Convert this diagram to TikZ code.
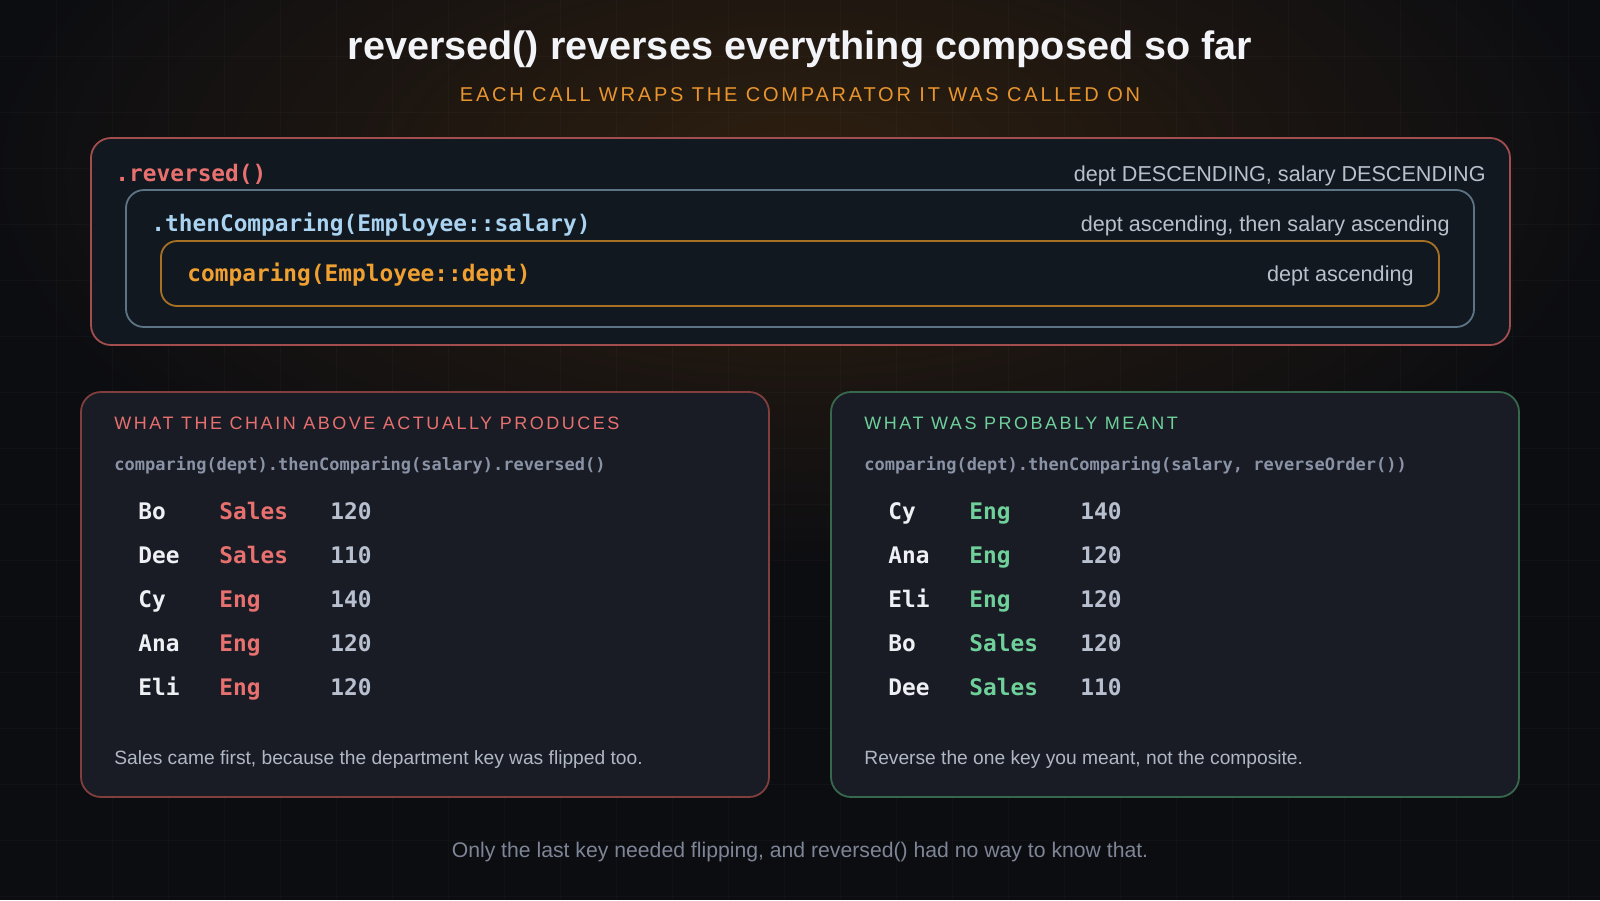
\documentclass[tikz,border=0pt]{standalone}
\usepackage{fontspec}
\setmainfont{Liberation Sans}
\setmonofont{DejaVu Sans Mono}
\newfontfamily\spacedfont[LetterSpace=14]{Liberation Sans}
\usepackage{xcolor}
\usetikzlibrary{positioning}

\definecolor{bgdark}{HTML}{0C0D11}
\definecolor{glow}{HTML}{2E1F10}
\definecolor{titlewhite}{HTML}{F2F4F8}
\definecolor{suborange}{HTML}{E8952E}
\definecolor{revred}{HTML}{E8706F}
\definecolor{thenblue}{HTML}{A9D3F0}
\definecolor{cmporange}{HTML}{F0A030}
\definecolor{labelgray}{HTML}{B8C0CC}
\definecolor{codegray}{HTML}{8A93A6}
\definecolor{notegray}{HTML}{B0B7C4}
\definecolor{footgray}{HTML}{7E8596}
\definecolor{namewhite}{HTML}{EEF0F4}
\definecolor{salgray}{HTML}{B8C0D0}
\definecolor{okgreen}{HTML}{6FD09A}
\definecolor{boxfill}{HTML}{111820}
\definecolor{panelfill}{HTML}{191C25}

\tikzset{
  boxline/.style={line width=0.9pt, rounded corners=9pt},
  codebig/.style={font=\ttfamily\bfseries\fontsize{11.4}{13}\selectfont, anchor=base west, inner sep=0pt},
  codesmall/.style={font=\ttfamily\bfseries\fontsize{8.5}{10}\selectfont, anchor=base west, inner sep=0pt, text=codegray},
  desc/.style={font=\fontsize{10.8}{12}\selectfont, anchor=base east, inner sep=0pt, text=labelgray},
  heading/.style={font=\spacedfont\fontsize{9}{11}\selectfont, anchor=base west, inner sep=0pt},
  note/.style={font=\fontsize{9.6}{11}\selectfont, anchor=base west, inner sep=0pt, text=notegray},
}

\begin{document}
\begin{tikzpicture}[x=0.5pt, y=-0.5pt]
    \useasboundingbox (0,0) rectangle (1600,900);
    % background, glow and grid
    \fill[bgdark] (0,0) rectangle (1600,900);
    \shade[inner color=glow, outer color=bgdark] (800,170) ellipse (820 and 400);
    \foreach \gx in {56,112,...,1600} \draw[white, opacity=0.025, line width=0.5pt] (\gx,0) -- (\gx,900);
    \foreach \gy in {56,112,...,900} \draw[white, opacity=0.025, line width=0.5pt] (0,\gy) -- (1600,\gy);

    \node[font=\bfseries\fontsize{19.8}{23}\selectfont, text=titlewhite, anchor=base] (title) at (800,59) {reversed() reverses everything composed so far};
    \node[font=\spacedfont\fontsize{10}{12}\selectfont, text=suborange, anchor=base] (subtitle) at (800,101.5) {EACH CALL WRAPS THE COMPARATOR IT WAS CALLED ON};

    % nested comparators
    \draw[boxline, draw=revred!70!black, fill=boxfill, rounded corners=10pt] (91,138) rectangle (1510,345);
    \draw[boxline, draw=thenblue!55!black, fill=boxfill] (126,190) rectangle (1474,327);
    \draw[boxline, draw=cmporange!70!black, fill=boxfill, rounded corners=8pt] (161,241) rectangle (1439,306);
    \node[codebig, text=revred] (rev) at (115,181) {.reversed()};
    \node[desc] (revdesc) at (1486,181.5) {dept DESCENDING, salary DESCENDING};
    \node[codebig, text=thenblue] (then) at (151,231) {.thenComparing(Employee::salary)};
    \node[desc] (thendesc) at (1450,231.5) {dept ascending, then salary ascending};
    \node[codebig, text=cmporange] (cmp) at (187,281) {comparing(Employee::dept)};
    \node[desc] (cmpdesc) at (1414,281.5) {dept ascending};

    % what the chain produces
    \draw[boxline, draw=revred!55!black, fill=panelfill, rounded corners=10pt] (81,392) rectangle (769,797);
    \node[heading, text=revred] (lhead) at (114,429) {WHAT THE CHAIN ABOVE ACTUALLY PRODUCES};
    \node[codesmall] (lcode) at (114,470) {comparing(dept).thenComparing(salary).reversed()};
    \foreach \nm/\dept/\sal [count=\i] in {Bo/Sales/120, Dee/Sales/110, Cy/Eng/140, Ana/Eng/120, Eli/Eng/120} {
        \node[codebig, text=namewhite] (lname\i) at (138,475+44*\i) {\nm};
        \node[codebig, text=revred] (ldept\i) at (219,475+44*\i) {\dept};
        \node[codebig, text=salgray] (lsal\i) at (330,475+44*\i) {\sal};
    }
    \node[note] (lnote) at (114,764) {Sales came first, because the department key was flipped too.};

    % what was meant
    \draw[boxline, draw=okgreen!50!black, fill=panelfill, rounded corners=10pt] (831,392) rectangle (1519,797);
    \node[heading, text=okgreen] (rhead) at (864,429) {WHAT WAS PROBABLY MEANT};
    \node[codesmall] (rcode) at (864,470) {comparing(dept).thenComparing(salary, reverseOrder())};
    \foreach \nm/\dept/\sal [count=\i] in {Cy/Eng/140, Ana/Eng/120, Eli/Eng/120, Bo/Sales/120, Dee/Sales/110} {
        \node[codebig, text=namewhite] (rname\i) at (888,475+44*\i) {\nm};
        \node[codebig, text=okgreen] (rdept\i) at (969,475+44*\i) {\dept};
        \node[codebig, text=salgray] (rsal\i) at (1080,475+44*\i) {\sal};
    }
    \node[note] (rnote) at (864,764) {Reverse the one key you meant, not the composite.};

    \node[font=\fontsize{10.6}{12}\selectfont, text=footgray, anchor=base] (footer) at (800,857) {Only the last key needed flipping, and reversed() had no way to know that.};
\end{tikzpicture}
\end{document}
